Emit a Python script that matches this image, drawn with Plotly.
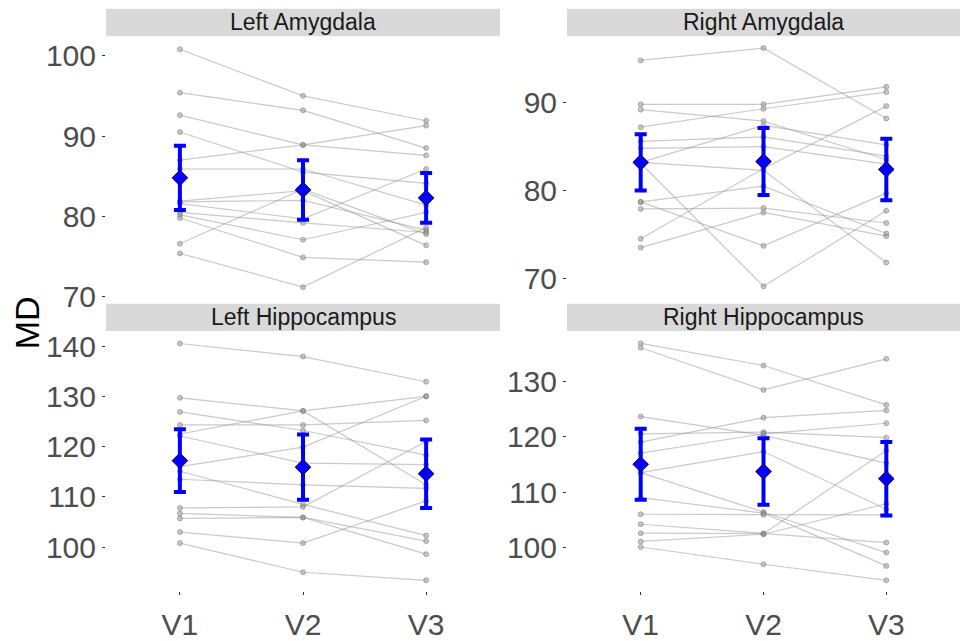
import plotly.graph_objects as go

visits = ["V1", "V2", "V3"]
panel_titles = ["Left Amygdala", "Right Amygdala", "Left Hippocampus", "Right Hippocampus"]

# Left Amygdala, per-subject values at each visit
la_v1 = [100.8, 95.4, 92.6, 90.5, 87.0, 85.9, 81.9, 81.8, 81.6, 80.5, 80.2, 79.8, 76.6, 75.4]
la_v2 = [95.0, 93.2, 88.9, 85.5, 88.9, 85.9, 83.2, 82.0, 79.7, 79.2, 77.1, 74.9, 83.4, 71.2]
la_v3 = [91.9, 88.5, 87.6, 84.1, 91.3, 81.4, 76.4, 78.3, 85.9, 78.0, 80.5, 74.3, 77.8, 78.6]

# Right Amygdala
ra_v1 = [94.8, 89.8, 89.2, 87.2, 85.6, 84.8, 83.2, 83.2, 83.1, 78.7, 78.7, 77.9, 74.5, 73.5]
ra_v2 = [96.2, 89.8, 87.9, 89.3, 86.1, 85.0, 87.4, 82.3, 69.1, 80.5, 73.7, 78.0, 82.5, 77.5]
ra_v3 = [88.2, 91.8, 83.5, 91.2, 83.9, 83.0, 85.2, 71.8, 77.7, 75.1, 79.7, 76.3, 89.6, 74.8]

# Left Hippocampus
lh_v1 = [140.5, 129.7, 126.9, 124.3, 122.5, 122.1, 116.0, 115.1, 113.5, 107.8, 106.7, 105.7, 103.0, 100.8]
lh_v2 = [137.9, 127.1, 123.2, 124.3, 127.1, 116.7, 119.9, 108.5, 112.4, 108.0, 105.9, 105.9, 100.8, 95.0]
lh_v3 = [132.9, 112.4, 118.3, 125.2, 130.0, 116.4, 130.0, 102.3, 111.7, 121.0, 101.2, 98.6, 109.2, 93.4]

# Right Hippocampus
rh_v1 = [136.8, 136.0, 123.6, 120.5, 119.0, 117.0, 113.5, 113.5, 109.0, 106.0, 104.2, 102.6, 101.1, 100.1]
rh_v2 = [132.8, 128.4, 120.2, 120.8, 123.4, 120.5, 117.3, 106.4, 106.2, 105.9, 102.5, 102.5, 102.4, 97.0]
rh_v3 = [125.7, 134.0, 115.2, 119.8, 124.7, 122.4, 106.9, 99.1, 96.7, 105.9, 100.9, 117.5, 107.9, 94.1]

# Group means and error half-widths
la_mean = [84.8, 83.3, 82.3]
la_err = [4.0, 3.7, 3.1]
ra_mean = [83.2, 83.3, 82.4]
ra_err = [3.2, 3.8, 3.5]
lh_mean = [117.2, 115.9, 114.6]
lh_err = [6.25, 6.5, 6.8]
rh_mean = [115.0, 113.7, 112.4]
rh_err = [6.4, 6.0, 6.6]

la_ticks = [70, 80, 90, 100]
ra_ticks = [70, 80, 90]
lh_ticks = [100, 110, 120, 130, 140]
rh_ticks = [100, 110, 120, 130]

panels = [
    (la_v1, la_v2, la_v3, la_mean, la_err, la_ticks, [69.74, 102.43]),
    (ra_v1, ra_v2, ra_v3, ra_mean, ra_err, ra_ticks, [67.67, 97.56]),
    (lh_v1, lh_v2, lh_v3, lh_mean, lh_err, lh_ticks, [91.3, 142.97]),
    (rh_v1, rh_v2, rh_v3, rh_mean, rh_err, rh_ticks, [92.2, 139.0]),
]

W, H = 960, 641
xdoms = [[106 / W, 500 / W], [567 / W, 960 / W]]
ydoms = [[1 - 305 / H, 1 - 36 / H], [1 - 604 / H, 1 - 338 / H]]
strip_px = [(8, 36), (310, 338)]

fig = go.Figure()
FONT = "Liberation Sans, Arial, sans-serif"
layout_axes = {}
shapes = []
annotations = []

for i, (v1, v2, v3, mean, err, ticks, yr) in enumerate(panels):
    col = i % 2
    row = i // 2
    ax = "" if i == 0 else str(i + 1)
    xref = "x" + ax
    yref = "y" + ax
    xs, ys = [], []
    for a, b, c in zip(v1, v2, v3):
        xs += [0, 1, 2, None]
        ys += [a, b, c, None]
    fig.add_trace(go.Scatter(
        x=xs, y=ys, mode="lines+markers", xaxis=xref, yaxis=yref,
        line=dict(color="rgba(150,150,150,0.5)", width=1.2),
        marker=dict(size=5, color="rgba(150,150,150,0.5)",
                    line=dict(color="rgba(110,110,110,0.6)", width=0.8)),
        showlegend=False, hoverinfo="skip"))
    fig.add_trace(go.Scatter(
        x=[0, 1, 2], y=mean, mode="markers", xaxis=xref, yaxis=yref,
        marker=dict(symbol="diamond", size=12, color="#0000ff",
                    line=dict(color="#2a0050", width=1)),
        error_y=dict(type="data", array=err, color="#0000ff", thickness=4, width=6),
        showlegend=False))
    layout_axes["xaxis" + ax] = dict(
        domain=xdoms[col], anchor=yref, range=[-0.6, 2.6],
        tickmode="array", tickvals=[0, 1, 2], ticktext=visits,
        showticklabels=(row == 1), ticks="outside" if row == 1 else "",
        ticklen=3, tickcolor="#333333", tickwidth=1, ticklabelstandoff=4,
        showgrid=False, zeroline=False, showline=False,
        tickfont=dict(family=FONT, size=30, color="#4d4d4d"))
    layout_axes["yaxis" + ax] = dict(
        domain=ydoms[row], anchor=xref, range=yr,
        tickmode="array", tickvals=ticks,
        ticks="outside", ticklen=3, tickcolor="#333333", tickwidth=1,
        showgrid=False, zeroline=False, showline=False,
        tickfont=dict(family=FONT, size=30, color="#4d4d4d"))
    # facet strip
    y0p, y1p = strip_px[row]
    shapes.append(dict(type="rect", xref="paper", yref="paper",
                       x0=xdoms[col][0], x1=xdoms[col][1],
                       y0=1 - y1p / H, y1=1 - y0p / H,
                       fillcolor="#d9d9d9", line=dict(width=0), layer="below"))
    annotations.append(dict(xref="paper", yref="paper",
                            x=(xdoms[col][0] + xdoms[col][1]) / 2,
                            y=1 - (y0p + y1p) / 2 / H,
                            text=panel_titles[i], showarrow=False,
                            xanchor="center", yanchor="middle",
                            font=dict(family=FONT, size=23, color="#1a1a1a")))

annotations.append(dict(xref="paper", yref="paper", x=27 / W, y=1 - 330 / H,
                        text="MD", showarrow=False, textangle=-90,
                        xanchor="center", yanchor="middle",
                        font=dict(family=FONT, size=34, color="#000000")))

fig.update_layout(
    width=W, height=H, margin=dict(l=0, r=0, t=0, b=0),
    paper_bgcolor="white", plot_bgcolor="white",
    shapes=shapes, annotations=annotations, **layout_axes)

fig.write_html(
    "out.html",
    config={"displayModeBar": False},
    post_script="document.body.style.margin='0';document.body.style.padding='0';"
                "document.body.style.overflow='hidden';")
